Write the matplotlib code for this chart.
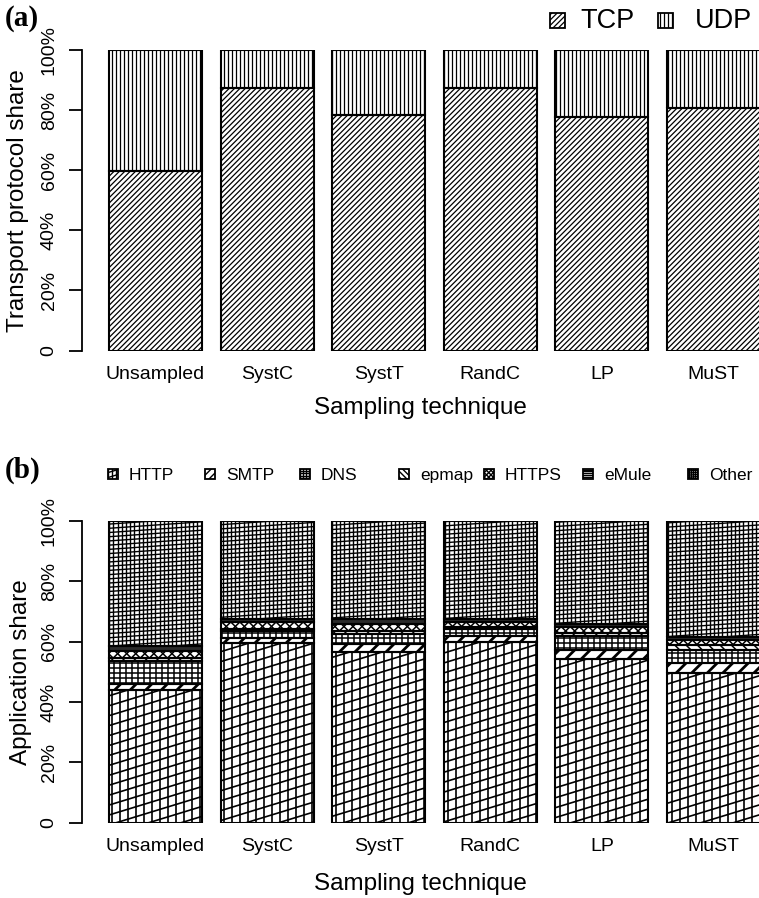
import numpy as np
import matplotlib
matplotlib.use("Agg")
import matplotlib.pyplot as plt
from matplotlib.patches import Rectangle
from matplotlib.collections import LineCollection
from matplotlib.transforms import IdentityTransform

plt.rcParams['font.family'] = ['Liberation Sans', 'DejaVu Sans']

# ---------------- data ----------------
techniques = ["Unsampled", "SystC", "SystT", "RandC", "LP", "MuST"]
tcp_share = [0.598, 0.874, 0.784, 0.874, 0.777, 0.807]
udp_share = [1 - v for v in tcp_share]

apps = ["HTTP", "SMTP", "DNS", "epmap", "HTTPS", "eMule", "Other"]
http_share = [0.440, 0.595, 0.564, 0.597, 0.541, 0.497]
smtp_share = [0.020, 0.017, 0.028, 0.022, 0.030, 0.033]
dns_share = [0.075, 0.023, 0.032, 0.022, 0.048, 0.042]
epmap_share = [0.010, 0.007, 0.010, 0.006, 0.008, 0.015]
https_share = [0.025, 0.022, 0.024, 0.018, 0.022, 0.019]
emule_share = [0.015, 0.010, 0.016, 0.009, 0.008, 0.010]
other_share = [0.415, 0.326, 0.326, 0.326, 0.343, 0.384]

yticks = [0, 0.2, 0.4, 0.6, 0.8, 1.0]
ytick_labels = ["0", "20%", "40%", "60%", "80%", "100%"]

# ---------------- styles ----------------
# list of (angle in degrees, perpendicular spacing in px), line width
pat_tcp = ([(45, 3.8)], 0.9)
pat_udp = ([(90, 4.0)], 0.9)
app_patterns = {
    "HTTP": ([(90, 8.0), (17, 9.5)], 1.2),
    "SMTP": ([(45, 11.0)], 2.0),
    "DNS": ([(0, 5.0), (90, 6.0)], 1.1),
    "epmap": ([(135, 8.0)], 1.1),
    "HTTPS": ([(45, 6.4), (135, 6.4)], 1.1),
    "eMule": ([(0, 2.2)], 1.2),
    "Other": ([(90, 4.2), (4, 4.2)], 1.0),
}

W, H = 759, 898
fig = plt.figure(figsize=(W / 100, H / 100), dpi=100)

def fig_rect(x0, y0, x1, y1):
    return [x0 / W, 1 - y1 / H, (x1 - x0) / W, (y1 - y0) / H]

ax_a = fig.add_axes(fig_rect(82, 50, 759, 350.5))
ax_b = fig.add_axes(fig_rect(82, 520.7, 759, 822.7))

xpos = 0.7 + 1.2 * np.arange(len(techniques))
XLIM = (-0.090, 7.189)


def hatch_lines(bb, pattern):
    segs = []
    cx, cy = (bb.x0 + bb.x1) / 2, (bb.y0 + bb.y1) / 2
    L = np.hypot(bb.width, bb.height)
    corners = np.array([[bb.x0, bb.y0], [bb.x1, bb.y0], [bb.x0, bb.y1], [bb.x1, bb.y1]])
    for a, spacing in pattern:
        r = np.deg2rad(a)
        d = np.array([np.cos(r), np.sin(r)])
        n = np.array([-np.sin(r), np.cos(r)])
        proj = corners @ n
        k0 = int(np.floor(proj.min() / spacing)) - 1
        k1 = int(np.ceil(proj.max() / spacing)) + 1
        s = np.dot([cx, cy], d)
        for k in range(k0, k1 + 1):
            o = k * spacing * n
            segs.append([o + (s - L) * d, o + (s + L) * d])
    return segs


def add_hatched(container, patch, pattern, lw):
    bb = patch.get_window_extent()
    lc = LineCollection(hatch_lines(bb, pattern), colors="black",
                        linewidths=lw, transform=IdentityTransform())
    lc.set_zorder(2.5)
    if hasattr(container, "add_collection"):
        container.add_collection(lc, autolim=False)
    else:
        container.add_artist(lc)
    lc.set_clip_path(patch)


def style_axes(ax, xlabel_y, ylabel_x):
    ax.set_xlim(*XLIM)
    ax.set_ylim(0, 1)
    for sp in ["top", "right", "bottom"]:
        ax.spines[sp].set_visible(False)
    ax.spines["left"].set_linewidth(1.3)
    ax.set_yticks(yticks)
    ax.set_yticklabels(ytick_labels, rotation=90, va="center", fontsize=14)
    ax.tick_params(axis="y", length=9.5, width=1.3, pad=8)
    ax.set_xticks(xpos)
    ax.set_xticklabels(techniques, fontsize=14)
    ax.tick_params(axis="x", length=0, pad=11)
    ax.set_xlabel("Sampling technique", fontsize=17.5, va="center")
    ax.xaxis.set_label_coords(0.5, xlabel_y)
    ax.yaxis.label.set_va("center")
    ax.yaxis.set_label_coords(ylabel_x, 0.5)
    ax.patch.set_visible(False)


# ---------------- panel (a) ----------------
ax_a.set_ylabel("Transport protocol share", fontsize=17.5)
style_axes(ax_a, -(408 - 350.5) / 300.5, (18 - 82) / 677)
bottoms = np.zeros(len(techniques))
for vals, (pat, lw) in [(tcp_share, pat_tcp), (udp_share, pat_udp)]:
    bars = ax_a.bar(xpos, vals, width=1.0, bottom=bottoms, color="white",
                    edgecolor="none", zorder=2)
    for b in bars:
        add_hatched(ax_a, b, pat, lw)
    ax_a.bar(xpos, vals, width=1.0, bottom=bottoms, fill=False,
             edgecolor="black", linewidth=1.5, zorder=3)
    bottoms = bottoms + np.array(vals)

# ---------------- panel (b) ----------------
ax_b.set_ylabel("Application share", fontsize=17.5)
style_axes(ax_b, -(884 - 822.7) / 302, (21 - 82) / 677)
app_vals = [http_share, smtp_share, dns_share, epmap_share, https_share,
            emule_share, other_share]
bottoms = np.zeros(len(techniques))
for name, vals in zip(apps, app_vals):
    pat, lw = app_patterns[name]
    bars = ax_b.bar(xpos, vals, width=1.0, bottom=bottoms, color="white",
                    edgecolor="none", zorder=2)
    for b in bars:
        add_hatched(ax_b, b, pat, lw)
    ax_b.bar(xpos, vals, width=1.0, bottom=bottoms, fill=False,
             edgecolor="black", linewidth=1.5, zorder=3)
    bottoms = bottoms + np.array(vals)

# ---------------- legends ----------------
def legend_box(x, y, size, pattern, lw, scale):
    r = Rectangle((x, H - y - size), size, size, transform=IdentityTransform(),
                  facecolor="white", edgecolor="none", zorder=2)
    fig.add_artist(r)
    small = [(a, max(s * scale, 1.8)) for a, s in pattern]
    add_hatched(fig, r, small, lw)
    e = Rectangle((x, H - y - size), size, size, transform=IdentityTransform(),
                  facecolor="none", edgecolor="black", linewidth=1.3, zorder=3)
    fig.add_artist(e)

# panel (a) legend
legend_box(550, 13, 15, pat_tcp[0], 0.9, 1.0)
fig.text(580 / W, 1 - 21 / H, "TCP", fontsize=19.5, va="center", ha="left")
legend_box(658, 13, 15, pat_udp[0], 0.9, 1.0)
fig.text(695 / W, 1 - 21 / H, "UDP", fontsize=19.5, va="center", ha="left")

# panel (b) legend
leg_b_x = [108, 205, 300, 399, 484, 583, 688]
for name, lx in zip(apps, leg_b_x):
    pat, lw = app_patterns[name]
    legend_box(lx, 469, 10, pat, min(lw, 1.0), 0.5)
    fig.text((lx + 21) / W, 1 - 475 / H, name, fontsize=12.5, va="center", ha="left")

# panel labels
fig.text(5 / W, 1 - 18 / H, "(a)", fontsize=21, fontweight="bold",
         family=["Liberation Serif", "DejaVu Serif"], va="center", ha="left")
fig.text(5 / W, 1 - 470 / H, "(b)", fontsize=21, fontweight="bold",
         family=["Liberation Serif", "DejaVu Serif"], va="center", ha="left")

fig.savefig("out.png", dpi=100)
